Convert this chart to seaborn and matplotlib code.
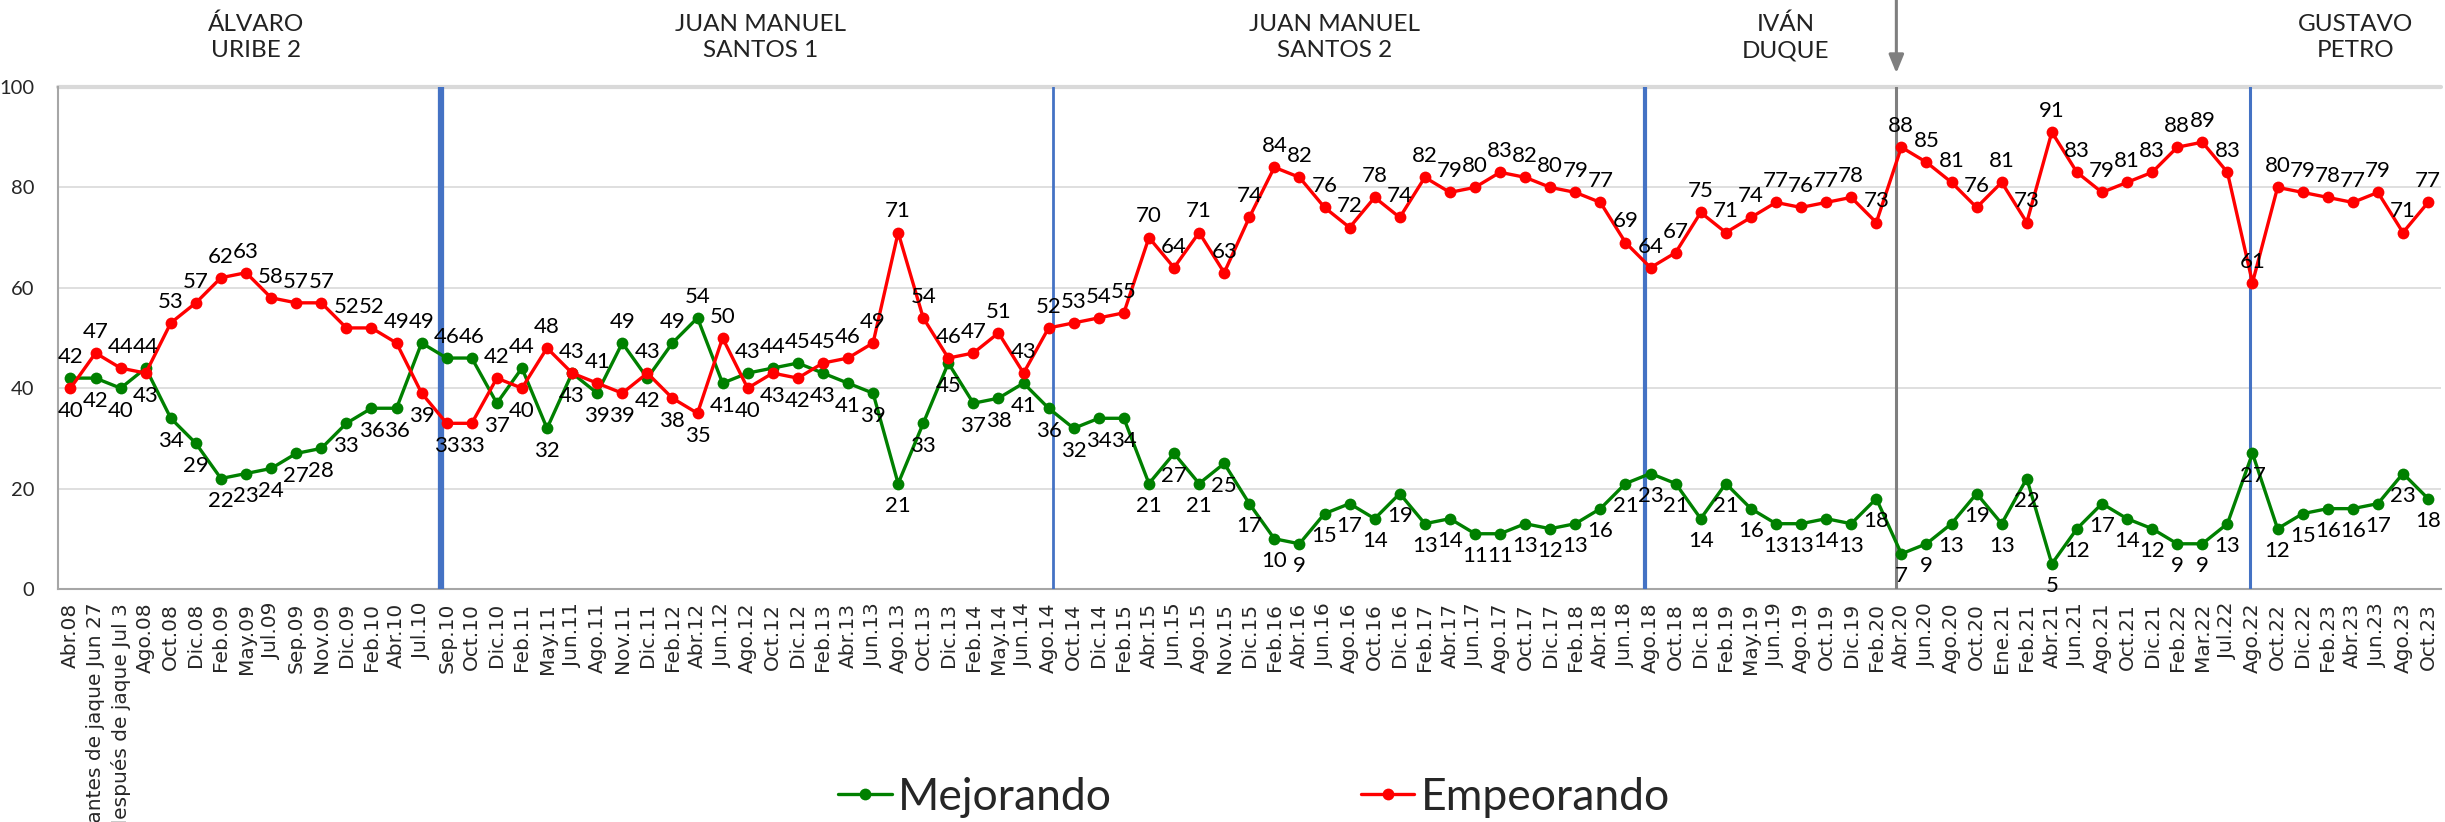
import matplotlib
matplotlib.use("Agg")
import matplotlib.pyplot as plt
import seaborn as sns
import pandas as pd
from matplotlib.transforms import blended_transform_factory

periodos = ["Abr.08", "Días antes de jaque Jun 27", "Días después de jaque Jul 3", "Ago.08",
            "Oct.08", "Dic.08", "Feb.09", "May.09", "Jul.09", "Sep.09", "Nov.09", "Dic.09",
            "Feb.10", "Abr.10", "Jul.10", "Sep.10", "Oct.10", "Dic.10", "Feb.11", "May.11",
            "Jun.11", "Ago.11", "Nov.11", "Dic.11", "Feb.12", "Abr.12", "Jun.12", "Ago.12",
            "Oct.12", "Dic.12", "Feb.13", "Abr.13", "Jun.13", "Ago.13", "Oct.13", "Dic.13",
            "Feb.14", "May.14", "Jun.14", "Ago.14", "Oct.14", "Dic.14", "Feb.15", "Abr.15",
            "Jun.15", "Ago.15", "Nov.15", "Dic.15", "Feb.16", "Abr.16", "Jun.16", "Ago.16",
            "Oct.16", "Dic.16", "Feb.17", "Abr.17", "Jun.17", "Ago.17", "Oct.17", "Dic.17",
            "Feb.18", "Abr.18", "Jun.18", "Ago.18", "Oct.18", "Dic.18", "Feb.19", "May.19",
            "Jun.19", "Ago.19", "Oct.19", "Dic.19", "Feb.20", "Abr.20", "Jun.20", "Ago.20",
            "Oct.20", "Ene.21", "Feb.21", "Abr.21", "Jun.21", "Ago.21", "Oct.21", "Dic.21",
            "Feb.22", "Mar.22", "Jul.22", "Ago.22", "Oct.22", "Dic.22", "Feb.23", "Abr.23",
            "Jun.23", "Ago.23", "Oct.23"]

mejorando = [42, 42, 40, 44, 34, 29, 22, 23, 24, 27, 28, 33, 36, 36, 49,
             46, 46, 37, 44, 32, 43, 39, 49, 42, 49, 54, 41, 43, 44, 45, 43, 41, 39, 21,
             33, 45, 37, 38, 41, 36, 32, 34, 34,
             21, 27, 21, 25, 17, 10, 9, 15, 17, 14, 19, 13, 14, 11, 11, 13, 12, 13, 16, 21,
             23, 21, 14, 21, 16, 13, 13, 14, 13, 18,
             7, 9, 13, 19, 13, 22, 5, 12, 17, 14, 12, 9, 9, 13,
             27, 12, 15, 16, 16, 17, 23, 18]

empeorando = [40, 47, 44, 43, 53, 57, 62, 63, 58, 57, 57, 52, 52, 49, 39,
              33, 33, 42, 40, 48, 43, 41, 39, 43, 38, 35, 50, 40, 43, 42, 45, 46, 49, 71,
              54, 46, 47, 51, 43, 52, 53, 54, 55,
              70, 64, 71, 63, 74, 84, 82, 76, 72, 78, 74, 82, 79, 80, 83, 82, 80, 79, 77, 69,
              64, 67, 75, 71, 74, 77, 76, 77, 78, 73,
              88, 85, 81, 76, 81, 73, 91, 83, 79, 81, 83, 88, 89, 83,
              61, 80, 79, 78, 77, 79, 71, 77]

gobiernos = ["ÁLVARO\nURIBE 2", "JUAN MANUEL\nSANTOS 1", "JUAN MANUEL\nSANTOS 2",
             "IVÁN\nDUQUE", "GUSTAVO\nPETRO"]

sns.set_style("white")
plt.rcParams['font.family'] = ['Lato', 'DejaVu Sans']

df = pd.DataFrame({"idx": range(len(periodos)), "Mejorando": mejorando, "Empeorando": empeorando})

fig = plt.figure(figsize=(24.45, 8.22), dpi=100)
ax = fig.add_axes([0.0237, 0.2835, 0.9745, 0.6107])

verde = "#008000"
rojo = "#FF0000"
sns.lineplot(data=df, x="idx", y="Mejorando", ax=ax, color=verde, lw=2.4, marker="o",
             markersize=8.5, markeredgewidth=0, label="Mejorando", zorder=4)
sns.lineplot(data=df, x="idx", y="Empeorando", ax=ax, color=rojo, lw=2.4, marker="o",
             markersize=8.5, markeredgewidth=0, label="Empeorando", zorder=5)

# etiquetas de datos: la serie mas alta arriba, la mas baja abajo
for i in range(len(periodos)):
    g, r = mejorando[i], empeorando[i]
    for v, alto in ((g, g >= r), (r, r > g)):
        if alto:
            ax.annotate(str(v), (i, v), xytext=(0, 8), textcoords="offset points",
                        ha="center", va="bottom", fontsize=16, color="black", zorder=6)
        else:
            ax.annotate(str(v), (i, v), xytext=(0, -9), textcoords="offset points",
                        ha="center", va="top", fontsize=16, color="black", zorder=6)

ax.set_xlim(-0.5, len(periodos) - 0.5)
ax.set_ylim(0, 100)
ax.set_yticks(range(0, 101, 20))
ax.tick_params(axis="y", labelsize=14.5, length=5, color="#a6a6a6", pad=12)
for v in range(20, 100, 20):
    ax.axhline(v, color="#d9d9d9", lw=1.2, zorder=0)
ax.axhline(100, color="#d9d9d9", lw=3, zorder=0, clip_on=False)

ax.set_xticks(range(len(periodos)))
ax.set_xticklabels(periodos, rotation=90, fontsize=14.5, family="DejaVu Sans")
ax.set_xticks([i - 0.5 for i in range(len(periodos) + 1)], minor=True)
ax.tick_params(axis="x", which="major", length=0, pad=10)
ax.tick_params(axis="x", which="minor", length=6, color="#a6a6a6", width=1)
ax.set_xlabel("")
ax.set_ylabel("")

for s in ["top", "right"]:
    ax.spines[s].set_visible(False)
for s in ["left", "bottom"]:
    ax.spines[s].set_color("#a6a6a6")
    ax.spines[s].set_linewidth(1.5)

# cambios de gobierno
azul = "#4472C4"
for x, w in [(14.78, 4.5), (39.19, 2.0), (62.78, 3.0), (86.9, 2.2)]:
    ax.axvline(x, color=azul, lw=w, zorder=3)

trans = blended_transform_factory(ax.transData, ax.transAxes)
ax.axvline(72.8, color="#7f7f7f", lw=2.2, zorder=3)
ax.annotate("", xy=(72.8, 1.022), xytext=(72.8, 1.18), xycoords=trans, textcoords=trans,
            arrowprops=dict(arrowstyle="-|>,head_length=1.1,head_width=0.45", color="#7f7f7f", lw=2.2))

for nombre, x in zip(gobiernos, [7.4, 27.5, 50.4, 68.4, 91.1]):
    ax.text(x, 1.099, nombre, transform=trans, ha="center", va="center", fontsize=17.5,
            linespacing=1.3, color="#222222")

h, l = ax.get_legend_handles_labels()
ax.get_legend().remove()
fig.legend(h, l, loc="center", bbox_to_anchor=(0.513, 0.03), ncol=2, frameon=False,
           fontsize=32, columnspacing=5.6, handlelength=1.2, handletextpad=0.15)

fig.savefig("out.png", dpi=100, facecolor="white")
